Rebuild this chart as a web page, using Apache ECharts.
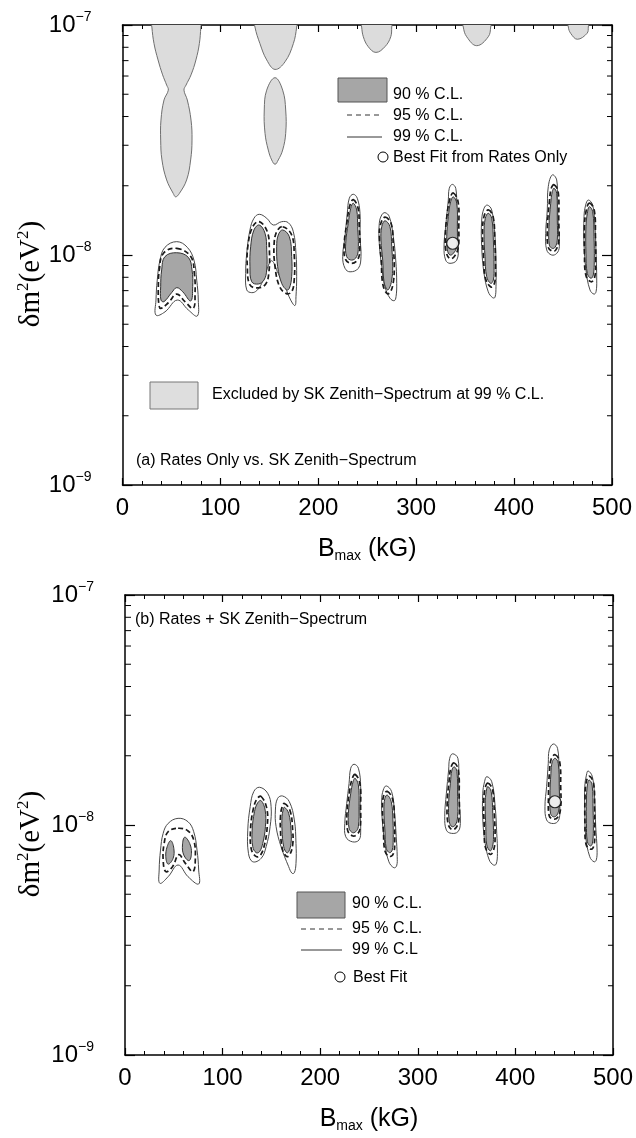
<!DOCTYPE html>
<html><head><meta charset="utf-8">
<script src="https://cdn.jsdelivr.net/npm/echarts@6/dist/echarts.min.js"></script>
<style>html,body{margin:0;padding:0;background:#fff}#c{width:636px;height:1138px}</style>
</head><body><div id="c"></div>
<script>
// ---------- DATA (B_max in kG, delta m^2 in eV^2) ----------
const xTickValues = [0, 100, 200, 300, 400, 500];
const yMinorTicks = [2e-9,3e-9,4e-9,5e-9,6e-9,7e-9,8e-9,9e-9,2e-8,3e-8,4e-8,5e-8,6e-8,7e-8,8e-8,9e-8];

// Panel (a): regions excluded by SK zenith spectrum at 99% C.L.
const excludedA = [
  [[29.5,1.1e-7],[30,9.8e-8],[32.2,8.3e-8],[36.3,7.05e-8],[41,6.07e-8],[45.1,5.48e-8],[46.8,5.21e-8],[42.4,4.72e-8],[39.3,3.86e-8],[39,3.16e-8],[40.3,2.59e-8],[45.1,2.12e-8],[51.9,1.85e-8],[54.3,1.79e-8],[58,1.85e-8],[65.5,2.12e-8],[69.6,2.59e-8],[71,3.16e-8],[70,3.86e-8],[66.2,4.72e-8],[62.8,5.21e-8],[64.9,5.48e-8],[70,6.07e-8],[75,7.05e-8],[78.5,8.3e-8],[80,9.8e-8],[80.5,1.1e-7]],
  [[134.5,1.1e-7],[135.3,9.8e-8],[140.4,8.3e-8],[147.3,7.05e-8],[155.8,6.41e-8],[166,6.92e-8],[174.5,8.3e-8],[177.9,9.8e-8],[178.5,1.1e-7]],
  [[155.8,5.9e-8],[163.6,5.21e-8],[166.7,4.27e-8],[166.7,3.38e-8],[163.6,2.86e-8],[159.1,2.59e-8],[155.8,2.48e-8],[152.4,2.59e-8],[148.9,2.86e-8],[145.6,3.38e-8],[144.8,4.27e-8],[147.3,5.21e-8]],
  [[243.5,1.1e-7],[244.3,9.8e-8],[246,8.89e-8],[251,8.05e-8],[258.9,7.6e-8],[268.1,8.05e-8],[274,8.89e-8],[275,9.8e-8],[275.5,1.1e-7]],
  [[347.5,1.1e-7],[348.1,9.8e-8],[351.6,8.89e-8],[361.8,8.13e-8],[373.6,8.89e-8],[376.1,9.8e-8],[376.5,1.1e-7]],
  [[455,1.1e-7],[455.4,9.8e-8],[457.8,9.2e-8],[464.6,8.67e-8],[474.5,9.2e-8],[475.8,9.8e-8],[476,1.1e-7]]
];
// Panel (a): rates only contours
const cl99A = [
  [[55.4,1.143e-8],[66.2,1.08e-8],[73,9.5e-9],[75.8,7.78e-9],[77.4,6.37e-9],[76.4,5.43e-9],[67.2,5.77e-9],[56,6.37e-9],[43.4,5.66e-9],[34.2,5.48e-9],[34.2,6.37e-9],[35.5,7.78e-9],[38.3,9.5e-9],[43.4,1.08e-8]],
  [[139.7,1.503e-8],[147.3,1.445e-8],[154,1.35e-8],[162.6,1.396e-8],[169.4,1.381e-8],[174.5,1.262e-8],[177.2,1.016e-8],[177.9,8.05e-9],[177.2,6.59e-9],[176.2,6.03e-9],[171.8,6.37e-9],[166,7.28e-9],[159.1,8.31e-9],[152.4,9.44e-9],[147.3,8.61e-9],[142.2,7.53e-9],[137.1,7.0e-9],[132,6.86e-9],[126.9,7.05e-9],[125.8,8.31e-9],[126.9,1.016e-8],[130.2,1.285e-8],[134.3,1.445e-8]],
  [[235.7,1.837e-8],[239.8,1.766e-8],[242.6,1.518e-8],[242.6,1.202e-8],[243.6,9.84e-9],[240.9,8.75e-9],[232.4,8.45e-9],[227.3,8.75e-9],[224.9,9.84e-9],[227.3,1.202e-8],[229.6,1.518e-8],[231.7,1.766e-8]],
  [[268.1,1.528e-8],[272.5,1.469e-8],[276.6,1.202e-8],[279.1,9.5e-9],[280.1,7.53e-9],[279.4,6.59e-9],[277.6,6.33e-9],[273.2,6.49e-9],[268.1,7.28e-9],[264.8,8.89e-9],[262.3,1.125e-8],[262.3,1.374e-8],[264.8,1.493e-8]],
  [[336.9,2.028e-8],[340.4,1.95e-8],[341.4,1.622e-8],[342,1.327e-8],[343,1.086e-8],[341.4,9.5e-9],[334.5,9.2e-9],[330.1,9.5e-9],[328.4,1.086e-8],[330.1,1.327e-8],[332.8,1.734e-8],[333.8,1.95e-8]],
  [[372.6,1.648e-8],[377.1,1.57e-8],[380.5,1.202e-8],[381.5,9.2e-9],[381.5,7.28e-9],[380.5,6.55e-9],[378.1,6.52e-9],[373.6,6.92e-9],[369.3,8.31e-9],[366.9,1.086e-8],[366.9,1.419e-8],[369.3,1.596e-8]],
  [[439,2.23e-8],[443.5,2.12e-8],[444.1,1.734e-8],[445.2,1.327e-8],[446.2,1.086e-8],[443.5,1.016e-8],[438.4,1.0e-8],[433.3,1.052e-8],[432.3,1.242e-8],[433.9,1.57e-8],[434.9,1.982e-8]],
  [[475.8,1.734e-8],[480.3,1.648e-8],[482.6,1.327e-8],[483.7,1.016e-8],[484.4,7.78e-9],[483.7,6.92e-9],[481.6,6.76e-9],[477.5,7.05e-9],[473.4,8.61e-9],[471.4,1.125e-8],[471.4,1.469e-8],[473.1,1.648e-8]]
];
const cl95A = [
  [[55.4,1.069e-8],[69.7,9.84e-9],[73.4,8.31e-9],[74.1,6.83e-9],[72.3,5.86e-9],[63.8,6.27e-9],[55.4,6.76e-9],[46.8,6.2e-9],[39,5.86e-9],[37,6.17e-9],[36.6,7.28e-9],[37.6,8.61e-9],[41.7,1.016e-8]],
  [[139.7,1.396e-8],[147.9,1.262e-8],[150,1.052e-8],[149.6,8.45e-9],[146.3,7.48e-9],[138.7,7.2e-9],[130.2,7.41e-9],[127.5,8.89e-9],[128.2,1.104e-8],[133,1.327e-8]],
  [[163.6,1.327e-8],[172.8,1.222e-8],[175.5,9.84e-9],[175.5,7.92e-9],[172.8,6.92e-9],[167,6.81e-9],[160.2,7.33e-9],[155.8,8.89e-9],[154.8,1.104e-8],[157.5,1.262e-8]],
  [[235.7,1.74e-8],[240.6,1.6e-8],[241.8,1.33e-8],[242.5,1.08e-8],[240.5,9.6e-9],[234.1,9.2e-9],[227.6,9.6e-9],[226.5,1.12e-8],[229.2,1.38e-8],[232,1.63e-8]],
  [[268.1,1.46e-8],[274.6,1.36e-8],[276.6,1.09e-8],[277.6,8.85e-9],[276.6,7.6e-9],[273.6,6.9e-9],[270.2,6.8e-9],[265.8,7.5e-9],[264.3,9.5e-9],[262.5,1.17e-8],[263.4,1.35e-8]],
  [[337.9,1.86e-8],[342.8,1.7e-8],[343.5,1.33e-8],[342.8,1.07e-8],[338.5,9.8e-9],[334.2,9.65e-9],[330.4,1.04e-8],[329.7,1.2e-8],[331.4,1.48e-8],[334.5,1.76e-8]],
  [[373.6,1.57e-8],[378.5,1.47e-8],[380.3,1.16e-8],[381,8.8e-9],[380.2,7.6e-9],[376.6,7.25e-9],[370.8,7.9e-9],[368.8,9.8e-9],[367.8,1.25e-8],[369.4,1.48e-8]],
  [[440.8,2.02e-8],[445,1.88e-8],[445.6,1.42e-8],[445.6,1.15e-8],[442.5,1.05e-8],[438.6,1.04e-8],[434.6,1.09e-8],[434.1,1.33e-8],[436,1.7e-8],[438,1.95e-8]],
  [[476.8,1.68e-8],[481.8,1.57e-8],[483.1,1.2e-8],[483.4,9.4e-9],[482.3,8.0e-9],[478.6,7.65e-9],[473.4,8.15e-9],[471.9,1.01e-8],[471.9,1.33e-8],[473.5,1.55e-8]]
];
const cl90A = [
  [[55.4,1.023e-8],[67.2,9.77e-9],[71,8.61e-9],[71.7,7.28e-9],[69.7,6.31e-9],[61.5,6.92e-9],[55.4,7.21e-9],[50.2,6.86e-9],[42.4,6.27e-9],[39.3,6.37e-9],[39,7.28e-9],[40,8.61e-9],[43.4,9.84e-9]],
  [[139.7,1.35e-8],[145.6,1.242e-8],[147.3,1.052e-8],[147.3,8.61e-9],[144.5,7.78e-9],[138.7,7.48e-9],[132,7.65e-9],[130.2,8.89e-9],[130.9,1.086e-8],[134.3,1.285e-8]],
  [[163.6,1.285e-8],[170.4,1.202e-8],[172.8,9.84e-9],[172.8,8.05e-9],[170.4,7.16e-9],[167.7,7.05e-9],[162.6,7.53e-9],[158.5,8.89e-9],[157.5,1.086e-8],[159.1,1.222e-8]],
  [[235.7,1.679e-8],[239.2,1.57e-8],[240.2,1.327e-8],[240.9,1.086e-8],[239.2,9.84e-9],[234.1,9.5e-9],[229,9.84e-9],[228,1.125e-8],[230.6,1.374e-8],[233.1,1.596e-8]],
  [[268.1,1.409e-8],[273.2,1.327e-8],[275,1.086e-8],[276,8.89e-9],[275,7.78e-9],[272.5,7.16e-9],[270.5,7.05e-9],[267.1,7.65e-9],[265.8,9.5e-9],[264,1.161e-8],[264.8,1.327e-8]],
  [[337.9,1.79e-8],[341.4,1.679e-8],[342,1.327e-8],[341.4,1.086e-8],[337.9,1.016e-8],[334.5,1.0e-8],[331.8,1.052e-8],[331.2,1.202e-8],[332.8,1.469e-8],[335.2,1.706e-8]],
  [[373.6,1.518e-8],[377.1,1.445e-8],[378.8,1.161e-8],[379.5,8.89e-9],[378.8,7.78e-9],[376.1,7.53e-9],[372,8.05e-9],[370.3,9.84e-9],[369.3,1.242e-8],[370.6,1.445e-8]],
  [[440.8,1.95e-8],[443.5,1.854e-8],[444.1,1.419e-8],[444.1,1.161e-8],[441.8,1.08e-8],[439,1.069e-8],[436,1.104e-8],[435.6,1.327e-8],[437.4,1.679e-8],[439,1.884e-8]],
  [[476.8,1.622e-8],[480.3,1.542e-8],[481.6,1.202e-8],[481.9,9.5e-9],[480.9,8.19e-9],[478.5,7.92e-9],[474.8,8.31e-9],[473.4,1.016e-8],[473.4,1.327e-8],[474.8,1.518e-8]]
];
const bestFitA = [[337.3, 1.125e-8]];

// Panel (b): rates + SK zenith spectrum contours
const cl99B = [
  [[54.4,1.069e-8],[64.6,1.033e-8],[70.4,9.35e-9],[73.8,7.78e-9],[75.5,6.37e-9],[75.5,5.54e-9],[64.6,5.96e-9],[54.4,6.7e-9],[44.2,5.96e-9],[35.7,5.58e-9],[35,6.37e-9],[36.4,7.78e-9],[39.1,9.2e-9],[44.2,1.016e-8]],
  [[137.8,1.459e-8],[146.2,1.374e-8],[149.7,1.202e-8],[148.7,9.84e-9],[144.6,8.05e-9],[139.5,7.16e-9],[130.9,6.92e-9],[126.5,7.53e-9],[125.8,9.5e-9],[128.3,1.202e-8],[131.9,1.396e-8]],
  [[161.5,1.337e-8],[168.4,1.262e-8],[173.5,1.052e-8],[175.2,8.31e-9],[175.2,6.81e-9],[173.5,6.2e-9],[171.1,6.17e-9],[167.7,6.59e-9],[159.9,8.05e-9],[154.8,9.84e-9],[154.1,1.161e-8],[156.4,1.306e-8]],
  [[234.7,1.837e-8],[239.1,1.766e-8],[241.5,1.469e-8],[240.8,1.161e-8],[241.5,9.5e-9],[239.8,8.61e-9],[233,8.45e-9],[226.2,8.89e-9],[225.2,1.016e-8],[227.2,1.242e-8],[229.6,1.518e-8],[231.3,1.766e-8]],
  [[267.7,1.479e-8],[273.2,1.396e-8],[276.2,1.125e-8],[277.9,8.89e-9],[278.9,7.28e-9],[278.3,6.64e-9],[275.5,6.52e-9],[270.4,6.92e-9],[266.3,8.31e-9],[263.6,1.052e-8],[263,1.285e-8],[264.6,1.419e-8]],
  [[335.7,2.04e-8],[341.1,1.95e-8],[341.8,1.57e-8],[342.6,1.242e-8],[343.6,1.016e-8],[341.1,9.35e-9],[334.4,9.2e-9],[329.3,9.5e-9],[327.6,1.086e-8],[329.3,1.374e-8],[331.6,1.734e-8],[332.7,1.95e-8]],
  [[370.7,1.622e-8],[375.8,1.542e-8],[379.3,1.202e-8],[380.9,9.2e-9],[381.6,7.53e-9],[380.3,6.76e-9],[377.6,6.7e-9],[373.2,7.05e-9],[369.1,8.31e-9],[366.6,1.052e-8],[366.6,1.374e-8],[368.4,1.542e-8]],
  [[438.8,2.25e-8],[443.2,2.155e-8],[444.6,1.734e-8],[444.9,1.327e-8],[445.6,1.125e-8],[443.2,1.033e-8],[437.1,1.016e-8],[432,1.052e-8],[430.3,1.202e-8],[432,1.469e-8],[433.7,1.854e-8],[434.7,2.12e-8]],
  [[474.5,1.718e-8],[478.9,1.622e-8],[481.3,1.285e-8],[482.3,9.84e-9],[483.7,7.78e-9],[482.9,7.05e-9],[480.6,6.92e-9],[476.2,7.28e-9],[472.1,8.89e-9],[471.1,1.161e-8],[471.1,1.469e-8],[472.8,1.648e-8]]
];
const cl95B = [
  [[54.4,9.68e-9],[64.6,9.42e-9],[70.4,8.61e-9],[72.1,7.28e-9],[69.7,6.27e-9],[61.9,6.81e-9],[55.1,7.43e-9],[48.7,6.59e-9],[41.8,6.27e-9],[39.1,7.05e-9],[40.1,8.31e-9],[44.2,9.35e-9]],
  [[139.5,1.33e-8],[145.3,1.18e-8],[145.7,9.8e-9],[142.6,8.1e-9],[138.3,7.35e-9],[134.2,7.3e-9],[129.4,7.85e-9],[128.6,9.5e-9],[131.2,1.16e-8],[135.3,1.3e-8]],
  [[163.3,1.24e-8],[169.2,1.15e-8],[171.8,9.5e-9],[171.8,8.2e-9],[168.6,7.4e-9],[165.4,7.3e-9],[161.3,7.85e-9],[159.3,9.5e-9],[159.4,1.1e-8],[160.8,1.19e-8]],
  [[235.7,1.66e-8],[240.6,1.52e-8],[241.4,1.2e-8],[240.7,9.6e-9],[237,9.05e-9],[232.8,8.98e-9],[228.2,9.45e-9],[227.4,1.12e-8],[229.8,1.38e-8],[232.6,1.58e-8]],
  [[268.7,1.4e-8],[274.3,1.29e-8],[276.1,1.05e-8],[276.4,8.5e-9],[275.2,7.55e-9],[271.3,7.3e-9],[266.4,7.7e-9],[264.8,9.5e-9],[263.8,1.17e-8],[265,1.34e-8]],
  [[337.4,1.86e-8],[341.6,1.73e-8],[342.4,1.33e-8],[342.3,1.07e-8],[339.3,9.75e-9],[334.8,9.55e-9],[330.9,1.02e-8],[330.1,1.24e-8],[331.9,1.53e-8],[334,1.78e-8]],
  [[371.7,1.52e-8],[376.7,1.42e-8],[378.4,1.12e-8],[379.2,8.8e-9],[377.9,7.85e-9],[374.4,7.45e-9],[369.3,8.0e-9],[368.1,9.8e-9],[367.6,1.25e-8],[368.8,1.43e-8]],
  [[440.8,2.02e-8],[445.4,1.88e-8],[446.4,1.47e-8],[446.4,1.19e-8],[443.4,1.08e-8],[438.6,1.06e-8],[434.6,1.1e-8],[433.9,1.33e-8],[434.9,1.7e-8],[436.8,1.94e-8]],
  [[475.5,1.63e-8],[480.1,1.52e-8],[481.1,1.16e-8],[481.4,9.4e-9],[480.3,8.1e-9],[476.9,7.85e-9],[472.4,8.25e-9],[471.3,1.01e-8],[471.3,1.29e-8],[472.5,1.53e-8]]
];
const cl90B = [
  [[46.9,8.55e-9],[50,7.92e-9],[49.3,7.16e-9],[44.2,6.76e-9],[41.8,7.28e-9],[43.2,8.05e-9]],
  [[61.2,8.85e-9],[66.3,8.31e-9],[68.1,7.53e-9],[65.6,7.0e-9],[60.2,7.41e-9],[58.9,8.19e-9]],
  [[139.5,1.276e-8],[143.6,1.161e-8],[143.9,9.84e-9],[141.1,8.31e-9],[137.8,7.65e-9],[134.4,7.58e-9],[130.9,8.05e-9],[130.3,9.5e-9],[132.7,1.143e-8],[136,1.25e-8]],
  [[163.3,1.194e-8],[167.7,1.125e-8],[170.1,9.5e-9],[170.1,8.31e-9],[167.7,7.65e-9],[165.6,7.58e-9],[162.6,8.05e-9],[160.9,9.5e-9],[160.9,1.086e-8],[162,1.161e-8]],
  [[235.7,1.596e-8],[239.1,1.493e-8],[239.8,1.202e-8],[239.1,9.84e-9],[236.4,9.35e-9],[233,9.27e-9],[229.6,9.68e-9],[228.9,1.125e-8],[231.3,1.374e-8],[233.7,1.542e-8]],
  [[268.7,1.35e-8],[272.8,1.262e-8],[274.5,1.052e-8],[274.8,8.61e-9],[273.8,7.78e-9],[271.1,7.58e-9],[267.7,7.92e-9],[266.3,9.5e-9],[265.3,1.161e-8],[266.3,1.306e-8]],
  [[337.4,1.79e-8],[340.1,1.706e-8],[340.8,1.327e-8],[340.8,1.086e-8],[338.5,1.0e-8],[335,9.84e-9],[332.3,1.033e-8],[331.6,1.242e-8],[333.4,1.518e-8],[335,1.734e-8]],
  [[371.7,1.469e-8],[375.2,1.396e-8],[376.8,1.125e-8],[377.6,8.89e-9],[376.5,8.05e-9],[374.2,7.72e-9],[370.7,8.19e-9],[369.7,9.84e-9],[369.1,1.242e-8],[370.1,1.396e-8]],
  [[440.8,1.95e-8],[443.9,1.854e-8],[444.9,1.469e-8],[444.9,1.202e-8],[442.6,1.104e-8],[438.8,1.086e-8],[436,1.125e-8],[435.4,1.327e-8],[436.4,1.679e-8],[437.8,1.884e-8]],
  [[475.5,1.57e-8],[478.6,1.493e-8],[479.6,1.161e-8],[479.9,9.5e-9],[478.9,8.31e-9],[476.8,8.11e-9],[473.8,8.45e-9],[472.8,1.016e-8],[472.8,1.285e-8],[473.8,1.493e-8]]
];
const bestFitB = [[440.5, 1.262e-8]];

// ---------- STYLE / LAYOUT ----------
const SANS = '"Liberation Sans", Arial, Helvetica, sans-serif';
const SERIF = '"Liberation Serif", "Times New Roman", serif';
const grids = [
  {left: 122.5, top: 25, width: 489.5, height: 460},
  {left: 125, top: 595, width: 490, height: 460}
];

function xAxes(gi) {
  const line = {show: true, onZero: false, lineStyle: {color: '#000', width: 1.5}};
  const base = {gridIndex: gi, type: 'value', min: xTickValues[0], max: xTickValues[xTickValues.length - 1], interval: 100,
    axisLine: line, splitLine: {show: false},
    axisTick: {show: true, inside: true, length: 7, lineStyle: {color: '#000', width: 1.2}},
    minorTick: {show: true, splitNumber: 5, length: 4, lineStyle: {color: '#000', width: 1}}};
  return [
    Object.assign({}, base, {position: 'bottom',
      axisLabel: {color: '#000', fontSize: 24, fontFamily: SANS, margin: 11},
      name: '{b|B}{s|max}{b| (kG)}', nameLocation: 'middle', nameGap: 50,
      nameTextStyle: {rich: {
        b: {fontSize: 25, fontFamily: SANS, color: '#000', lineHeight: 28},
        s: {fontSize: 14, fontFamily: SANS, color: '#000', verticalAlign: 'bottom', lineHeight: 28}}}}),
    Object.assign({}, base, {position: 'top', axisLabel: {show: false}})
  ];
}
function yAxes(gi) {
  const line = {show: true, onZero: false, lineStyle: {color: '#000', width: 1.5}};
  const base = {gridIndex: gi, type: 'log', logBase: 10, min: 1e-9, max: 1e-7,
    axisLine: line, splitLine: {show: false}, minorTick: {show: false},
    axisTick: {show: true, inside: true, length: 10, lineStyle: {color: '#000', width: 1.2}}};
  return [
    Object.assign({}, base, {position: 'left',
      axisLabel: {margin: 31,
        formatter: v => '{b|10}{s|\u2212' + Math.abs(Math.round(Math.log10(v))) + '}',
        rich: {
          b: {fontSize: 24, fontFamily: SANS, color: '#000', lineHeight: 30},
          s: {fontSize: 14, fontFamily: SANS, color: '#000', verticalAlign: 'top', lineHeight: 30}}}}),
    Object.assign({}, base, {position: 'right', axisLabel: {show: false}})
  ];
}

function polySeries(shapes, ax, style, z) {
  return {
    type: 'custom', xAxisIndex: ax, yAxisIndex: ax, clip: true, silent: true, z: z,
    data: shapes.map((s, i) => [s[0][0], s[0][1], i]),
    renderItem: (params, api) => {
      const pts = shapes[api.value(2)].map(p => api.coord(p));
      return {type: 'polygon', shape: {points: pts, smooth: 0.4}, style: style};
    }
  };
}
function minorTickSeries(ax) {
  return {
    type: 'custom', xAxisIndex: ax, yAxisIndex: ax, clip: false, silent: true, z: 20,
    data: yMinorTicks.map(v => [0, v]),
    renderItem: (params, api) => {
      const cs = params.coordSys;
      const y = api.coord([0, api.value(1)])[1];
      const st = {stroke: '#000', lineWidth: 1};
      return {type: 'group', children: [
        {type: 'line', shape: {x1: cs.x, y1: y, x2: cs.x + 6, y2: y}, style: st},
        {type: 'line', shape: {x1: cs.x + cs.width - 5, y1: y, x2: cs.x + cs.width, y2: y}, style: st}
      ]};
    }
  };
}

const styleExcl = {fill: '#dcdcdc', stroke: '#707070', lineWidth: 1};
const style99 = {fill: 'none', stroke: '#4a4a4a', lineWidth: 1};
const style95 = {fill: 'none', stroke: '#1a1a1a', lineWidth: 1.7, lineDash: [5, 3]};
const style90 = {fill: '#a6a6a6', stroke: '#333', lineWidth: 1};
const bestFitStyle = {color: '#fff', borderColor: '#000', borderWidth: 1.2};

function txt(x, y, text, size) {
  return {type: 'text', x: x, y: y, silent: true, z: 50,
    style: {text: text, fontSize: size || 16, fontFamily: SANS, fill: '#000', verticalAlign: 'middle', align: 'left'}};
}
function yTitle(y) {
  return {type: 'text', x: 31, y: y, rotation: Math.PI / 2, silent: true, z: 50,
    style: {text: '{n|\u03b4m}{s|2}{n|(eV}{s|2}{n|)}', align: 'center', verticalAlign: 'middle',
      rich: {n: {fontSize: 29, fontFamily: SERIF, fill: '#000', lineHeight: 32},
             s: {fontSize: 17, fontFamily: SERIF, fill: '#000', verticalAlign: 'top', lineHeight: 32}}}};
}

const graphic = [
  yTitle(274), yTitle(844),
  // panel (a) legend
  {type: 'rect', shape: {x: 338, y: 78, width: 49, height: 24}, style: {fill: '#a6a6a6', stroke: '#555', lineWidth: 1}, z: 50},
  txt(393, 95, '90 % C.L.'),
  {type: 'line', shape: {x1: 347, y1: 115, x2: 382, y2: 115}, style: {stroke: '#333', lineWidth: 1, lineDash: [5, 4]}, z: 50},
  txt(393, 116, '95 % C.L.'),
  {type: 'line', shape: {x1: 347, y1: 137, x2: 382, y2: 137}, style: {stroke: '#333', lineWidth: 1}, z: 50},
  txt(393, 137, '99 % C.L.'),
  {type: 'circle', shape: {cx: 383, cy: 157, r: 5}, style: {fill: '#fff', stroke: '#000', lineWidth: 1}, z: 50},
  txt(393, 158, 'Best Fit from Rates Only'),
  {type: 'rect', shape: {x: 150, y: 382, width: 48, height: 27}, style: {fill: '#dedede', stroke: '#777', lineWidth: 1}, z: 50},
  txt(212, 395, 'Excluded by SK Zenith\u2212Spectrum at 99 % C.L.'),
  txt(136, 461, '(a) Rates Only vs. SK Zenith\u2212Spectrum'),
  // panel (b)
  txt(135, 620, '(b) Rates + SK Zenith\u2212Spectrum'),
  {type: 'rect', shape: {x: 297, y: 892, width: 48, height: 26}, style: {fill: '#a6a6a6', stroke: '#555', lineWidth: 1}, z: 50},
  txt(352, 904, '90 % C.L.'),
  {type: 'line', shape: {x1: 301, y1: 929, x2: 342, y2: 929}, style: {stroke: '#333', lineWidth: 1, lineDash: [5, 4]}, z: 50},
  txt(352, 929, '95 % C.L.'),
  {type: 'line', shape: {x1: 301, y1: 950, x2: 342, y2: 950}, style: {stroke: '#333', lineWidth: 1}, z: 50},
  txt(352, 950, '99 % C.L'),
  {type: 'circle', shape: {cx: 340, cy: 977, r: 5}, style: {fill: '#fff', stroke: '#000', lineWidth: 1}, z: 50},
  txt(353, 978, 'Best Fit')
];

const option = {
  backgroundColor: '#fff',
  animation: false,
  grid: grids,
  xAxis: xAxes(0).concat(xAxes(1)),
  yAxis: yAxes(0).concat(yAxes(1)),
  graphic: graphic,
  series: [
    polySeries(excludedA, 0, styleExcl, 1),
    polySeries(cl99A, 0, style99, 2),
    polySeries(cl95A, 0, style95, 3),
    polySeries(cl90A, 0, style90, 4),
    {type: 'scatter', xAxisIndex: 0, yAxisIndex: 0, data: bestFitA, symbol: 'circle', symbolSize: 12, itemStyle: bestFitStyle, z: 6, silent: true},
    minorTickSeries(0),
    polySeries(cl99B, 2, style99, 2),
    polySeries(cl95B, 2, style95, 3),
    polySeries(cl90B, 2, style90, 4),
    {type: 'scatter', xAxisIndex: 2, yAxisIndex: 2, data: bestFitB, symbol: 'circle', symbolSize: 12, itemStyle: bestFitStyle, z: 6, silent: true},
    minorTickSeries(2)
  ]
};
const chart = echarts.init(document.getElementById('c'), null, {renderer: 'canvas'});
chart.setOption(option);
</script></body></html>
